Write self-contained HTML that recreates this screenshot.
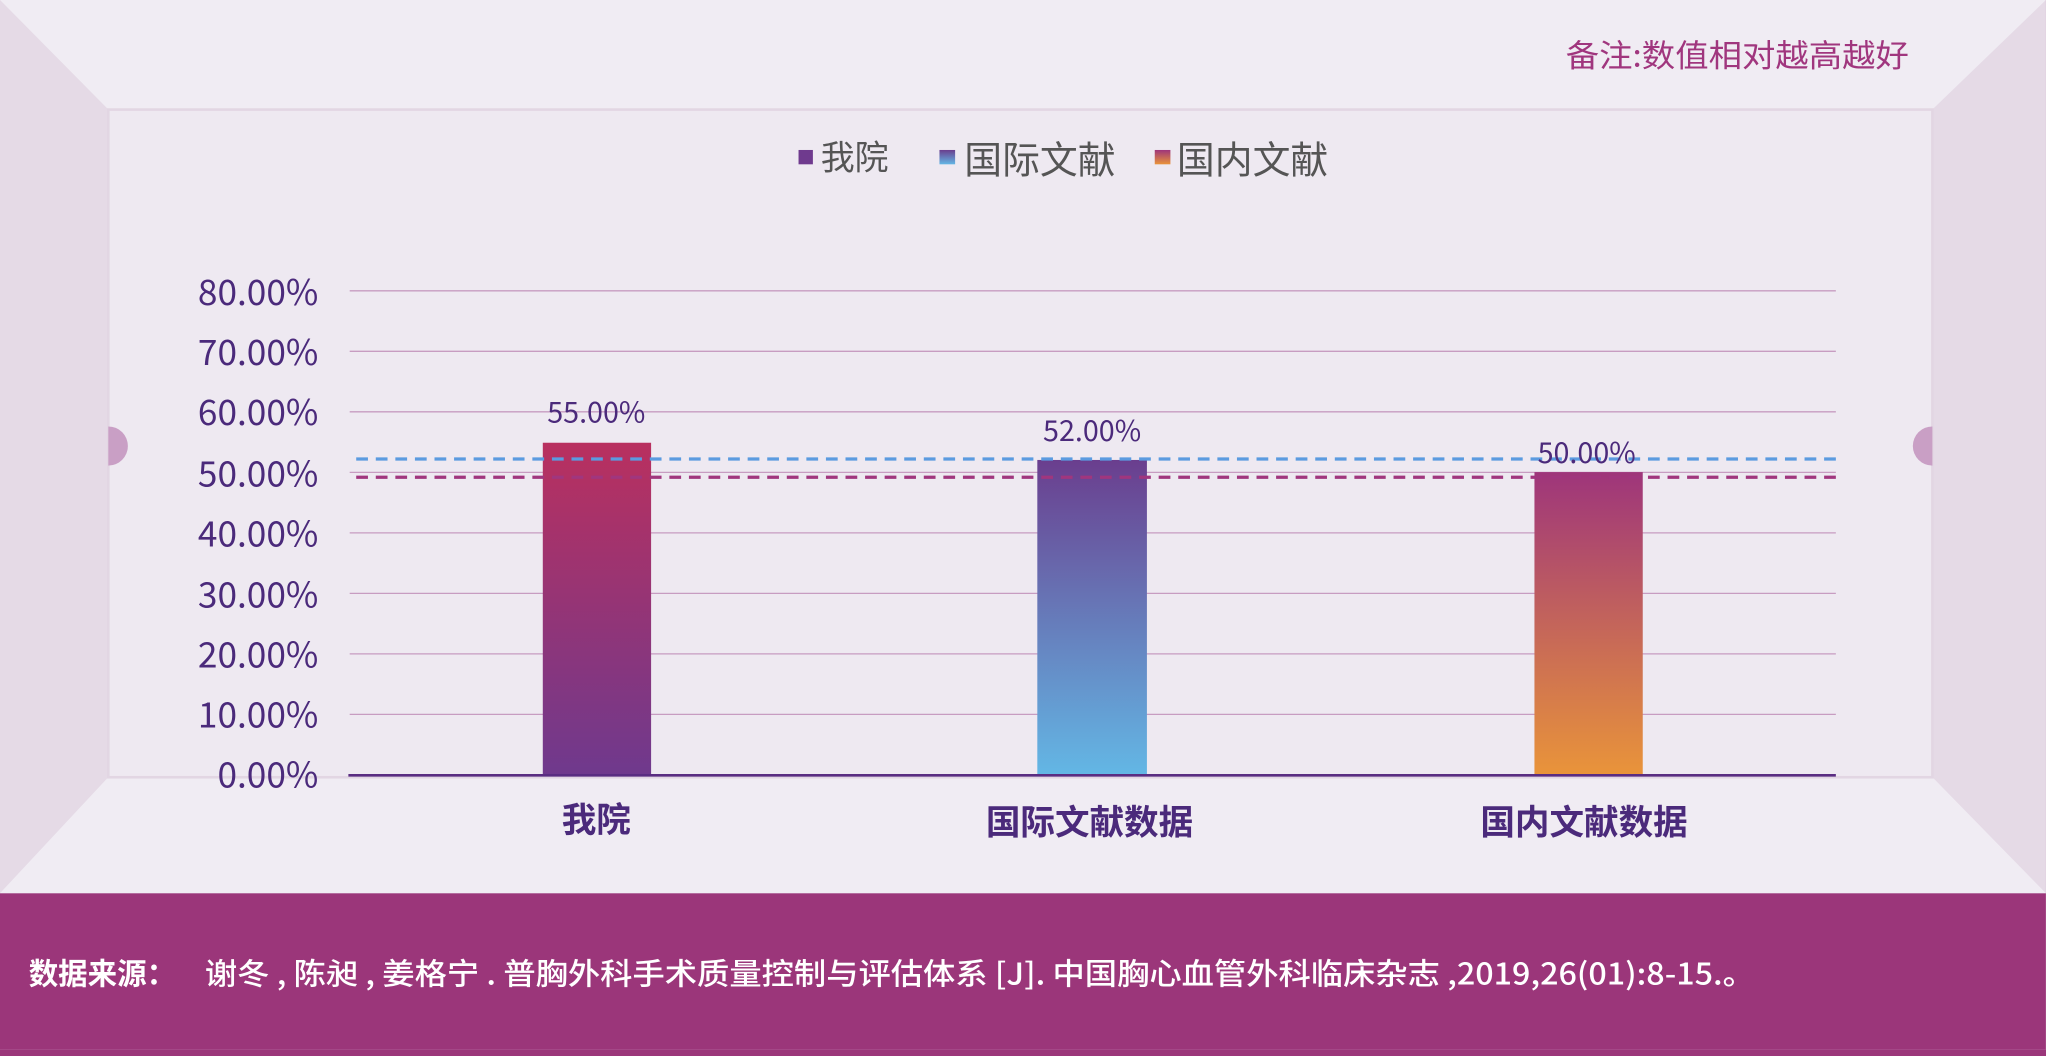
<!DOCTYPE html>
<html><head><meta charset="utf-8"><style>
html,body{margin:0;padding:0;width:2046px;height:1042px;overflow:hidden;background:#9b367a}
#w{position:absolute;left:0;top:0;width:1568px;height:799px;transform:scale(1.3048,1.3041);transform-origin:0 0}
text{font-family:"Noto Sans CJK SC","Liberation Sans",sans-serif}
</style></head><body><div id="w">
<svg width="1568" height="805" viewBox="0 0 1568 805" xmlns="http://www.w3.org/2000/svg">
<defs>
<linearGradient id="g1" x1="0" y1="0" x2="0" y2="1"><stop offset="0" stop-color="#b9305f"/><stop offset="1" stop-color="#6f398d"/></linearGradient>
<linearGradient id="g2" x1="0" y1="0" x2="0" y2="1"><stop offset="0" stop-color="#6a3e8e"/><stop offset="1" stop-color="#63b7e5"/></linearGradient>
<linearGradient id="g3" x1="0" y1="0" x2="0" y2="1"><stop offset="0" stop-color="#9e357b"/><stop offset="1" stop-color="#e9943a"/></linearGradient>
</defs>
<rect width="1568" height="805" fill="#ede8f0"/>
<polygon points="0,0 1568,0 1481,84 83,84" fill="#f0ecf3"/>
<polygon points="0,0 83,84 83,596 0,685" fill="#e5dae6"/>
<polygon points="1568,0 1481,84 1481,596 1568,685" fill="#e5dae6"/>
<polygon points="0,685 83,596 1481,596 1568,685" fill="#f0ecf3"/>
<rect x="83" y="84" width="1398" height="512" fill="#eee9f1" stroke="#e2d6e3" stroke-width="2"/>
<path d="M83,327 a15,15 0 0 1 0,30 z" fill="#c99fc5"/>
<path d="M1481,327 a15,15 0 0 0 0,30 z" fill="#c99fc5"/>
<text x="1463" y="51" text-anchor="end" font-size="24" fill="#a0367e" textLength="263" lengthAdjust="spacingAndGlyphs">备注:数值相对越高越好</text>
<rect x="612" y="115" width="11" height="11" fill="#6f3a8e"/>
<text x="629" y="130" font-size="26" fill="#555">我院</text>
<rect x="720" y="115" width="12" height="11" fill="url(#g2)"/>
<text x="739" y="133" font-size="29" fill="#555">国际文献</text>
<rect x="885" y="115" width="12" height="11" fill="url(#g3)"/>
<text x="902" y="133" font-size="29" fill="#555">国内文献</text>
<g stroke="#c79cc1" stroke-width="1">
<line x1="268" y1="223" x2="1407" y2="223"/><line x1="268" y1="269.4" x2="1407" y2="269.4"/>
<line x1="268" y1="315.8" x2="1407" y2="315.8"/><line x1="268" y1="362.2" x2="1407" y2="362.2"/>
<line x1="268" y1="408.6" x2="1407" y2="408.6"/><line x1="268" y1="455" x2="1407" y2="455"/>
<line x1="268" y1="501.4" x2="1407" y2="501.4"/><line x1="268" y1="547.8" x2="1407" y2="547.8"/>
</g>
<g font-size="27" fill="#4b2a7b" text-anchor="end">
<text x="244" y="234">80.00%</text><text x="244" y="280">70.00%</text><text x="244" y="326">60.00%</text>
<text x="244" y="373">50.00%</text><text x="244" y="419">40.00%</text><text x="244" y="466">30.00%</text>
<text x="244" y="512">20.00%</text><text x="244" y="558">10.00%</text><text x="244" y="604">0.00%</text>
</g>
<rect x="416" y="339.5" width="83" height="254.5" fill="url(#g1)"/>
<rect x="795" y="352.7" width="84" height="241.3" fill="url(#g2)"/>
<rect x="1176" y="362" width="83" height="232" fill="url(#g3)"/>
<line x1="273" y1="352" x2="1407" y2="352" stroke="#5b9be0" stroke-width="2.5" stroke-dasharray="9,6"/>
<line x1="273" y1="366" x2="1407" y2="366" stroke="#a0367e" stroke-width="2.5" stroke-dasharray="9,6"/>
<line x1="267" y1="594.5" x2="1407" y2="594.5" stroke="#5a2d82" stroke-width="2"/>
<g font-size="22" fill="#4b2a7b" text-anchor="middle">
<text x="457" y="324">55.00%</text><text x="837" y="338">52.00%</text><text x="1216" y="355">50.00%</text>
</g>
<g font-size="26.5" font-weight="bold" fill="#4b2a7b" text-anchor="middle">
<text x="457" y="638">我院</text><text x="835" y="640">国际文献数据</text><text x="1214" y="640">国内文献数据</text>
</g>
<rect x="0" y="685" width="1568" height="120" fill="#9b367a"/>
<text x="22" y="755" font-size="23" font-weight="bold" fill="#fff" textLength="113" lengthAdjust="spacingAndGlyphs">数据来源：</text>
<text x="157" y="755" font-size="23" font-weight="500" fill="#fff" textLength="1188" lengthAdjust="spacingAndGlyphs">谢冬 , 陈昶 , 姜格宁 . 普胸外科手术质量控制与评估体系 [J]. 中国胸心血管外科临床杂志 ,2019,26(01):8-15.。</text>
</svg></div></body></html>
